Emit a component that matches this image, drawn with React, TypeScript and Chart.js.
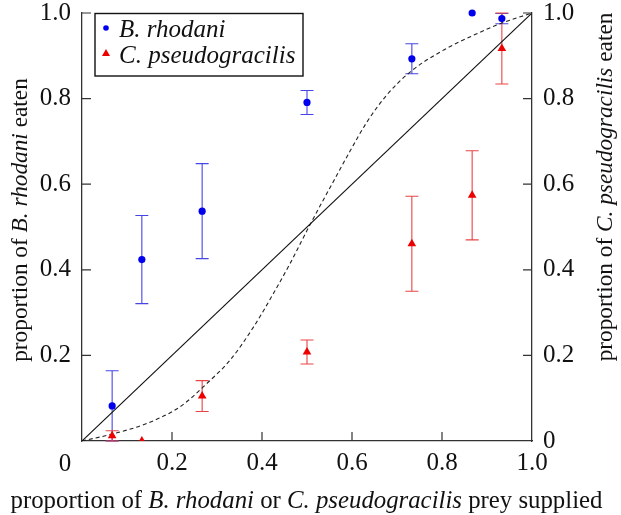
import React, { useEffect, useRef } from 'react';
import { Chart, registerables } from 'chart.js';

Chart.register(...registerables);

// proportion of each prey supplied
const supplied = [0.067, 0.133, 0.267, 0.5, 0.733, 0.867, 0.933];
// B. rhodani eaten (left axis)
const rhodaniEaten = [0.082, 0.424, 0.537, 0.791, 0.893, 1.0, 0.987];
const rhodaniErr = [0.082, 0.103, 0.111, 0.028, 0.035, 0, 0.012];
// C. pseudogracilis eaten (right axis)
const pseudoEaten = [0.012, 0.0, 0.105, 0.208, 0.461, 0.574, 0.917];
const pseudoErr = [0.012, 0, 0.036, 0.028, 0.111, 0.104, 0.083];
// dashed model curve
const curveX = [0, 0.07, 0.144, 0.218, 0.277, 0.329, 0.381, 0.425, 0.462, 0.507, 0.559, 0.596, 0.633, 0.677, 0.729, 0.796, 0.87, 0.929, 1.0];
const curveY = [0, 0.017, 0.041, 0.08, 0.134, 0.189, 0.266, 0.344, 0.414, 0.506, 0.607, 0.678, 0.745, 0.808, 0.862, 0.909, 0.948, 0.975, 1.0];
// 1:1 line
const diagX = [0, 1];
const diagY = [0, 1];
// tick values
const tickVals = [0, 0.2, 0.4, 0.6, 0.8, 1.0];

const SERIF = "'Liberation Serif', 'Times New Roman', serif";
const FS = 25;
const TFS = 24.8;
const VFS = 23.3;
const BLUE = '#0000ee';
const RED = '#ee0000';
const BLUE_BAR = '#4646e6';
const RED_BAR = '#e84444';

type Part = [string, boolean];

function measureParts(ctx: CanvasRenderingContext2D, parts: Part[], size: number) {
  let w = 0;
  for (const [t, it] of parts) {
    ctx.font = `${it ? 'italic ' : ''}${size}px ${SERIF}`;
    w += ctx.measureText(t).width;
  }
  return w;
}

function drawParts(ctx: CanvasRenderingContext2D, parts: Part[], size: number, startX: number, y: number) {
  let x = startX;
  for (const [t, it] of parts) {
    ctx.font = `${it ? 'italic ' : ''}${size}px ${SERIF}`;
    ctx.fillText(t, x, y);
    x += ctx.measureText(t).width;
  }
}

function drawCentered(ctx: CanvasRenderingContext2D, parts: Part[], size: number, cx: number, y: number) {
  const w = measureParts(ctx, parts, size);
  drawParts(ctx, parts, size, cx - w / 2, y);
}

function drawBars(ctx: CanvasRenderingContext2D, xs: any, ys: any, xv: number[], yv: number[], ev: number[], color: string) {
  ctx.save();
  ctx.strokeStyle = color;
  ctx.lineWidth = 1.1;
  for (let i = 0; i < xv.length; i++) {
    const e = ev[i];
    if (!e) continue;
    const px = xs.getPixelForValue(xv[i]);
    const hi = ys.getPixelForValue(Math.min(1, yv[i] + e));
    const lo = ys.getPixelForValue(Math.max(0, yv[i] - e));
    ctx.beginPath();
    ctx.moveTo(px, hi);
    ctx.lineTo(px, lo);
    ctx.moveTo(px - 6.5, hi);
    ctx.lineTo(px + 6.5, hi);
    ctx.moveTo(px - 6.5, lo);
    ctx.lineTo(px + 6.5, lo);
    ctx.stroke();
  }
  ctx.restore();
}

const decorPlugin = {
  id: 'decor',
  beforeDatasetsDraw(chart: any) {
    const { ctx } = chart;
    const { x, y, y2 } = chart.scales;
    drawBars(ctx, x, y, supplied, rhodaniEaten, rhodaniErr, BLUE_BAR);
    drawBars(ctx, x, y2, supplied, pseudoEaten, pseudoErr, RED_BAR);
  },
  afterDraw(chart: any) {
    const { ctx } = chart;
    const { x, y, y2 } = chart.scales;
    const area = chart.chartArea;
    ctx.save();
    // inward tick marks
    ctx.strokeStyle = '#333';
    ctx.lineWidth = 1.2;
    ctx.beginPath();
    for (const v of tickVals) {
      if (v > 0 && v < 1) {
        const px = x.getPixelForValue(v);
        ctx.moveTo(px, area.bottom);
        ctx.lineTo(px, area.bottom - 9);
      }
      if (v > 0) {
        const py = y.getPixelForValue(v);
        ctx.moveTo(area.left, py);
        ctx.lineTo(area.left + 9, py);
        const py2 = y2.getPixelForValue(v);
        ctx.moveTo(area.right, py2);
        ctx.lineTo(area.right - 9, py2);
      }
    }
    ctx.stroke();

    ctx.fillStyle = '#111';
    // origin label of x axis
    ctx.font = `${FS}px ${SERIF}`;
    ctx.textAlign = 'center';
    ctx.textBaseline = 'alphabetic';
    ctx.fillText('0', x.getPixelForValue(0) - 17, 471);
    ctx.textAlign = 'left';

    // x axis title
    drawCentered(ctx, [
      ['proportion of ', false], ['B. rhodani', true], [' or ', false],
      ['C. pseudogracilis', true], [' prey supplied', false]
    ], TFS, 306.5, 508);

    // left axis title
    ctx.save();
    ctx.translate(27, 220);
    ctx.rotate(-Math.PI / 2);
    drawCentered(ctx, [['proportion of ', false], ['B. rhodani', true], [' eaten', false]], VFS, 0, 0);
    ctx.restore();

    // right axis title
    ctx.save();
    ctx.translate(612, 187);
    ctx.rotate(-Math.PI / 2);
    drawCentered(ctx, [['proportion of ', false], ['C. pseudogracilis', true], [' eaten', false]], VFS, 0, 0);
    ctx.restore();

    // legend
    ctx.fillStyle = '#fff';
    ctx.fillRect(95, 13.5, 208, 62.5);
    ctx.strokeStyle = '#111';
    ctx.lineWidth = 1.4;
    ctx.strokeRect(95, 13.5, 208, 62.5);
    ctx.fillStyle = BLUE;
    ctx.beginPath();
    ctx.arc(106, 28, 2.8, 0, Math.PI * 2);
    ctx.fill();
    ctx.fillStyle = RED;
    ctx.beginPath();
    ctx.moveTo(106, 49);
    ctx.lineTo(110, 56);
    ctx.lineTo(102, 56);
    ctx.closePath();
    ctx.fill();
    ctx.fillStyle = '#111';
    drawParts(ctx, [['B. rhodani', true]], FS, 119, 36.5);
    drawParts(ctx, [['C. pseudogracilis', true]], FS, 119, 63);
    ctx.restore();
  }
};

export default function App() {
  const ref = useRef<HTMLCanvasElement>(null);
  useEffect(() => {
    const tickFont = { family: SERIF, size: FS };
    const chart = new Chart(ref.current as HTMLCanvasElement, {
      type: 'scatter',
      data: {
        datasets: [
          {
            label: 'B. rhodani',
            data: supplied.map((v, i) => ({ x: v, y: rhodaniEaten[i] })),
            backgroundColor: BLUE,
            borderColor: BLUE,
            pointRadius: 3.6,
            pointBorderWidth: 0,
            yAxisID: 'y',
            order: 1,
            clip: false as any,
          },
          {
            label: 'C. pseudogracilis',
            data: supplied.map((v, i) => ({ x: v, y: pseudoEaten[i] })),
            backgroundColor: RED,
            borderColor: RED,
            pointStyle: 'triangle',
            pointRadius: 5,
            pointBorderWidth: 0,
            yAxisID: 'y2',
            order: 1,
            clip: { left: 10, right: 10, top: 10, bottom: 0 } as any,
          },
          {
            type: 'line',
            label: 'equal',
            data: diagX.map((v, i) => ({ x: v, y: diagY[i] })),
            borderColor: '#111',
            borderWidth: 1.1,
            pointRadius: 0,
            showLine: true,
            yAxisID: 'y',
            order: 2,
          } as any,
          {
            type: 'line',
            label: 'model',
            data: curveX.map((v, i) => ({ x: v, y: curveY[i] })),
            borderColor: '#222',
            borderWidth: 1.1,
            borderDash: [4, 3],
            pointRadius: 0,
            showLine: true,
            cubicInterpolationMode: 'monotone',
            yAxisID: 'y',
            order: 2,
          } as any,
        ],
      },
      options: {
        animation: false,
        responsive: false,
        layout: { padding: { left: 0, right: 0, top: 13, bottom: 0 } },
        plugins: { legend: { display: false }, tooltip: { enabled: false } },
        scales: {
          x: {
            type: 'linear',
            min: 0,
            max: 1,
            afterBuildTicks: (s: any) => { s.ticks = tickVals.map((v) => ({ value: v })); },
            ticks: {
              font: tickFont,
              color: '#111',
              padding: 7,
              maxRotation: 0,
              autoSkip: false,
              callback: (v: any) => (v === 0 ? '' : Number(v).toFixed(1)),
            },
            grid: { display: false, drawTicks: false },
            border: { display: true, color: '#333', width: 1.3 },
            afterFit: (s: any) => { s.height = 74; },
          },
          y: {
            type: 'linear',
            position: 'left',
            min: 0,
            max: 1,
            afterBuildTicks: (s: any) => { s.ticks = tickVals.map((v) => ({ value: v })); },
            ticks: {
              font: tickFont,
              color: '#111',
              padding: 11,
              autoSkip: false,
              callback: (v: any) => (v === 0 ? '' : Number(v).toFixed(1)),
            },
            grid: { display: false, drawTicks: false },
            border: { display: true, color: '#333', width: 1.3 },
            afterFit: (s: any) => { s.width = 82; s.paddingTop = 0; s.paddingBottom = 0; },
          },
          y2: {
            type: 'linear',
            position: 'right',
            min: 0,
            max: 1,
            afterBuildTicks: (s: any) => { s.ticks = tickVals.map((v) => ({ value: v })); },
            ticks: {
              font: tickFont,
              color: '#111',
              padding: 11,
              autoSkip: false,
              callback: (v: any) => (v === 0 ? '0' : Number(v).toFixed(1)),
            },
            grid: { display: false, drawTicks: false },
            border: { display: true, color: '#333', width: 1.3 },
            afterFit: (s: any) => { s.width = 89; s.paddingTop = 0; s.paddingBottom = 0; },
          },
        },
      },
      plugins: [decorPlugin],
    } as any);
    return () => chart.destroy();
  }, []);
  return (
    <div style={{ position: 'absolute', left: 0, top: 0, width: 621, height: 515, background: '#fff' }}>
      <canvas ref={ref} width={621} height={515} style={{ display: 'block' }} />
    </div>
  );
}
